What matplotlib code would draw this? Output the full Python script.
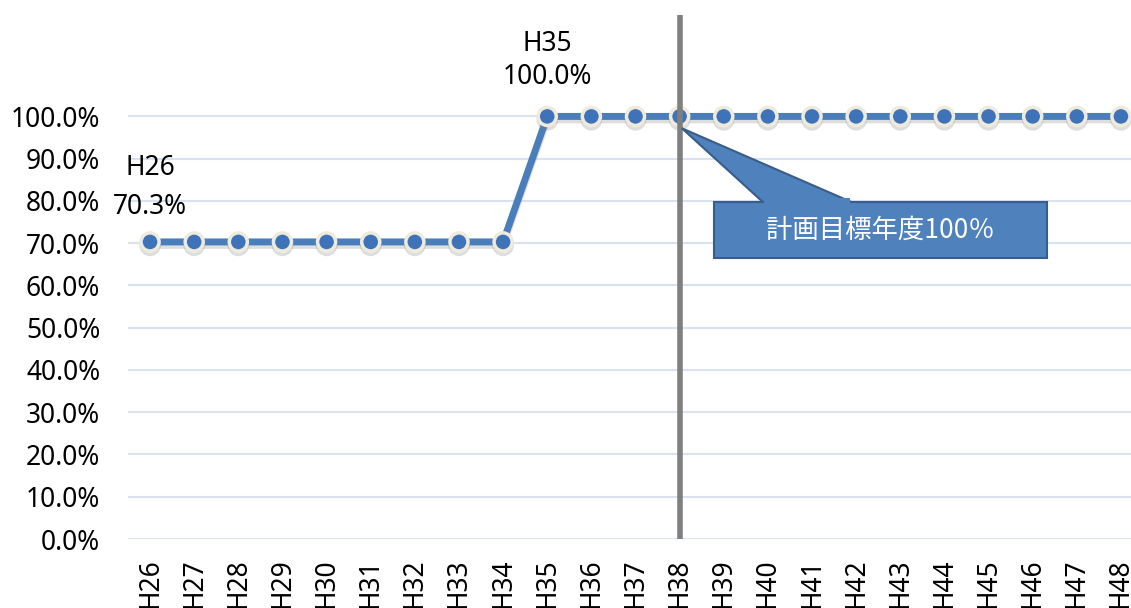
import matplotlib.pyplot as plt
import matplotlib.patheffects as pe
from matplotlib.patches import Polygon, Rectangle

plt.rcParams['font.family'] = ['Noto Sans', 'Noto Sans CJK JP', 'DejaVu Sans']

# 年度ごとの達成率
years = ['H%d' % y for y in range(26, 49)]
rates = [0.703] * 9 + [1.0] * 14
target_year = 'H38'

fig = plt.figure(figsize=(11.31, 6.08), dpi=100)
ax = fig.add_axes([128 / 1131, 1 - 539 / 608, 1015 / 1131, (539 - 15) / 608])

x = list(range(len(years)))
ax.plot(x, rates, color='#4A7EBB', lw=5, marker='o', ms=13,
        markerfacecolor='#3F73B9', markeredgecolor='#EEEBDC', markeredgewidth=2.5,
        zorder=3,
        path_effects=[pe.SimpleLineShadow(offset=(0, -2.5), shadow_color='#7F7F7F', alpha=0.25),
                      pe.Normal()])

ax.set_xlim(-0.5, len(years) - 0.5)
ax.set_ylim(0, 1.24)
ax.set_yticks([i / 10 for i in range(11)])
ax.set_yticklabels(['%.1f%%' % (i * 10) for i in range(11)], fontsize=19)
ax.set_xticks(x)
ax.set_xticklabels(years, rotation=90, fontsize=19)
ax.tick_params(axis='y', length=0, pad=20)
ax.tick_params(axis='x', length=0, pad=14)
ax.grid(axis='y', color='#D9E2F0', lw=1.5)
for s in ax.spines.values():
    s.set_visible(False)

# 計画目標年度の縦線
xt = years.index(target_year)
ax.axvline(xt, ymin=0, ymax=1, color='#7F7F7F', lw=4, zorder=4)

# 先頭と100%到達年度のラベル
i35 = rates.index(1.0)
ax.annotate('%s\n%.1f%%' % (years[0], rates[0] * 100), (0, rates[0]),
            xytext=(0, 15), textcoords='offset points', ha='center', va='bottom',
            fontsize=19, linespacing=1.55)
ax.annotate('%s\n%.1f%%' % (years[i35], rates[i35] * 100), (i35, rates[i35]),
            xytext=(0, 18), textcoords='offset points', ha='center', va='bottom',
            fontsize=19, linespacing=1.25)

# 吹き出し
bx0, bx1 = 12.78, 20.32
by0, by1 = 0.664, 0.797
ax.add_patch(Polygon([(xt + 0.05, 0.972), (13.89, by1), (15.9, by1)], closed=True,
                     facecolor='#4F81BD', edgecolor='#385D8A', lw=1.5, zorder=5))
ax.add_patch(Rectangle((bx0, by0), bx1 - bx0, by1 - by0,
                       facecolor='#4F81BD', edgecolor='#385D8A', lw=1.5, zorder=5))
ax.add_patch(Rectangle((13.92, by1 - 0.01), 1.95, 0.02,
                       facecolor='#4F81BD', edgecolor='none', zorder=6))
ax.text((bx0 + bx1) / 2, (by0 + by1) / 2, '計画目標年度100％', color='white',
        fontsize=19, ha='center', va='center', zorder=7,
        family=['Noto Sans CJK JP', 'DejaVu Sans'])

fig.savefig('out.png', dpi=100)
